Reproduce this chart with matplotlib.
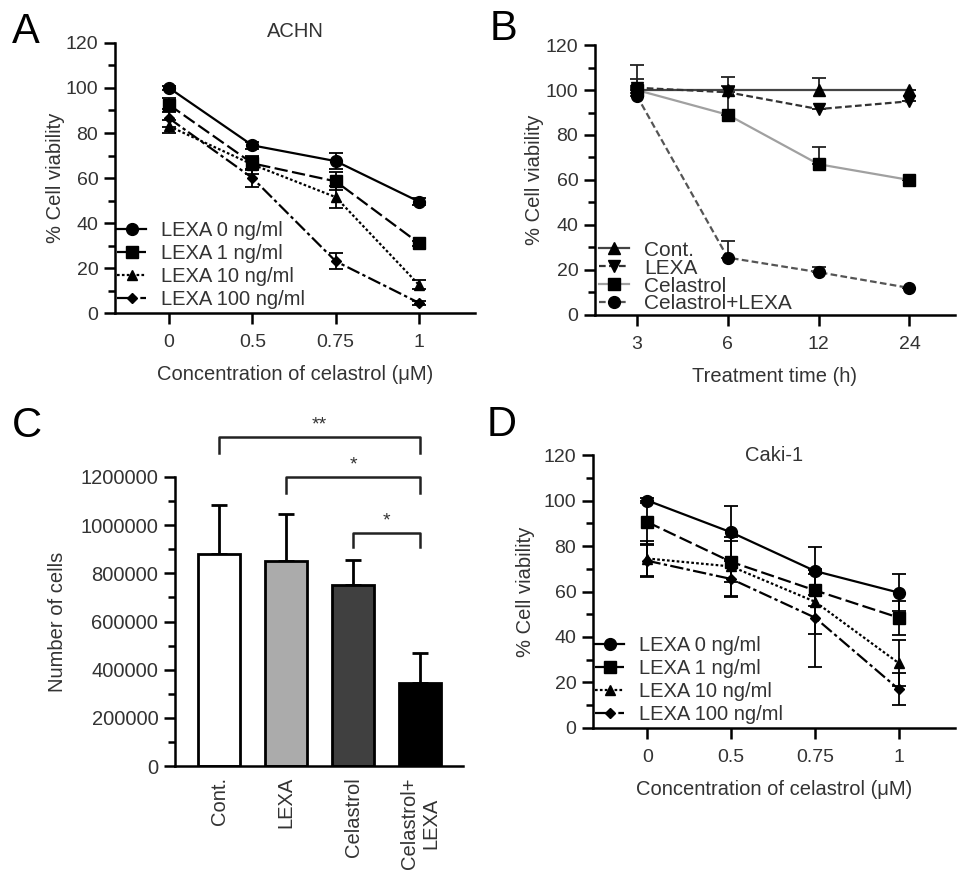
import numpy as np
import matplotlib
matplotlib.use("Agg")
import matplotlib.pyplot as plt
from matplotlib.ticker import FuncFormatter

plt.rcParams['font.family'] = ['Liberation Sans', 'DejaVu Sans']
plt.rcParams['axes.linewidth'] = 1.8

# data -------------------------------------------------------------------
conc_labels = ['0', '0.5', '0.75', '1']
lexa_labels = ['LEXA 0 ng/ml', 'LEXA 1 ng/ml', 'LEXA 10 ng/ml', 'LEXA 100 ng/ml']

achn_mean = [
    [100, 74.5, 67.5, 49.5],
    [92.5, 66.5, 58.5, 31],
    [83, 66, 51.5, 12.5],
    [86.5, 60, 23, 4.5],
]
achn_err = [
    [1, 1.5, 3.5, 1.5],
    [3, 3, 4, 1],
    [3, 4, 5, 2],
    [4, 4, 3.5, 1],
]

caki_mean = [
    [100, 86, 69, 59.5],
    [90.5, 73, 60.5, 48.5],
    [74.5, 71, 55.5, 28.5],
    [73.5, 65.5, 48.5, 17],
]
caki_err = [
    [1, 11.5, 10.5, 8],
    [9.5, 9, 7, 7.5],
    [7.5, 13, 14, 10],
    [7, 8, 21.5, 7],
]

time_labels = ['3', '6', '12', '24']
time_groups = ['Cont.', 'LEXA', 'Celastrol', 'Celastrol+LEXA']
time_mean = [
    [100, 100, 100, 100],
    [101, 99, 91.5, 95],
    [100, 89, 67, 60],
    [97.5, 25.5, 19, 12],
]
# only upper error bars are shown in this panel
time_err = [
    [11, 2, 5.5, 0],
    [4, 1, 0, 0],
    [2, 17, 7.5, 0],
    [1, 7.5, 2.5, 0],
]

bar_labels = ['Cont.', 'LEXA', 'Celastrol', 'Celastrol+\nLEXA']
bar_mean = [880000, 850000, 750000, 345000]
bar_sd = [205000, 195000, 105000, 125000]
bar_colors = ['white', '#ababab', '#404040', 'black']

# styles -----------------------------------------------------------------
conc_markers = ['o', 's', '^', 'D']
conc_msize = [8.5, 8.5, 7.5, 5.5]
conc_ls = ['-', (0, (6, 2)), (0, (1.2, 1)), (0, (6, 1.5, 1.5, 1.5))]

time_markers = ['^', 'v', 's', 'o']
time_colors = ['#444444', '#333333', '#a0a0a0', '#555555']
time_ls = ['-', (0, (3, 1.5)), '-', (0, (3, 1.5))]

TXT = '#333333'

fig = plt.figure(figsize=(9.69, 8.81), dpi=100)
axA = fig.add_axes([0.1187, 0.6447, 0.3713, 0.3065])
axB = fig.add_axes([0.614, 0.6425, 0.3715, 0.3064])
axC = fig.add_axes([0.1806, 0.1305, 0.2972, 0.3281])
axD = fig.add_axes([0.612, 0.1737, 0.3735, 0.3098])


def style_axis(ax, ymax, minor_step, xlo, xhi, labelsize=14):
    for s in ['top', 'right']:
        ax.spines[s].set_visible(False)
    ax.set_ylim(0, ymax)
    ax.set_xlim(xlo, xhi)
    ax.set_yticks(np.arange(0, ymax + 1, 2 * minor_step))
    ax.set_yticks(np.arange(minor_step, ymax, 2 * minor_step), minor=True)
    ax.tick_params(axis='both', which='major', length=8, width=1.8, pad=4,
                   labelsize=labelsize, colors='black', labelcolor=TXT)
    ax.tick_params(axis='x', which='major', pad=7)
    ax.tick_params(axis='y', which='minor', length=5, width=1.8)
    ax.tick_params(axis='x', which='minor', bottom=False)


def make_legend(ax, handles, labels, fs, spacing, anchor):
    leg = ax.legend(handles, labels, loc='lower left', bbox_to_anchor=anchor,
                    frameon=False, fontsize=fs, handlelength=1.45,
                    handletextpad=0.7, labelspacing=spacing, borderpad=0.2,
                    borderaxespad=0)
    for t in leg.get_texts():
        t.set_color(TXT)
    return leg


def conc_panel(ax, mean, err, title, title_pad, ylabel_pad):
    x = np.arange(len(conc_labels))
    handles = []
    for i in range(len(mean)):
        c = ax.errorbar(x, mean[i], yerr=err[i], color='black', lw=1.6,
                        ls=conc_ls[i], marker=conc_markers[i], ms=conc_msize[i],
                        capsize=5, elinewidth=1.3, capthick=1.3,
                        clip_on=False, zorder=3)
        handles.append(c[0])
    style_axis(ax, 120, 10, -0.65, 3.67)
    ax.set_xticks(x)
    ax.set_xticklabels(conc_labels)
    ax.set_xlabel('Concentration of celastrol (\u03bcM)', fontsize=14.5,
                  color=TXT, labelpad=10)
    ax.set_ylabel('% Cell viability', fontsize=14.5, color=TXT,
                  labelpad=ylabel_pad)
    ax.set_title(title, fontsize=14.5, color=TXT, pad=title_pad)
    make_legend(ax, handles, lexa_labels, 14.5, 0.2, (-0.005, 0.0))


conc_panel(axA, achn_mean, achn_err, 'ACHN', 4, 0.5)
conc_panel(axD, caki_mean, caki_err, 'Caki-1', -4, 6)

# B: time course
xt = np.arange(len(time_labels))
handlesB = []
for i in range(len(time_mean)):
    c = axB.errorbar(xt, time_mean[i],
                     yerr=[np.zeros(len(time_err[i])), time_err[i]],
                     color=time_colors[i], ecolor='#222222', lw=1.6,
                     ls=time_ls[i], marker=time_markers[i], ms=8.5,
                     mfc='black', mec='black', capsize=5, elinewidth=1.3,
                     capthick=1.3, clip_on=False, zorder=3)
    handlesB.append(c[0])
style_axis(axB, 120, 10, -0.46, 3.5)
axB.set_xticks(xt)
axB.set_xticklabels(time_labels)
axB.set_xlabel('Treatment time (h)', fontsize=14.5, color=TXT, labelpad=10)
axB.set_ylabel('% Cell viability', fontsize=14.5, color=TXT, labelpad=1.5)
make_legend(axB, handlesB, time_groups, 15, -0.05, (0.0, -0.01))

# C: bar chart
xb = np.arange(len(bar_labels))
axC.bar(xb, bar_mean, width=0.62, color=bar_colors, edgecolor='black',
        linewidth=2, zorder=2)
axC.errorbar(xb, bar_mean, yerr=[np.zeros(len(bar_sd)), bar_sd], fmt='none',
             ecolor='black', elinewidth=2, capsize=6, capthick=2, zorder=1)
style_axis(axC, 1200000, 100000, -0.66, 3.64, labelsize=14.5)
axC.yaxis.set_major_formatter(FuncFormatter(lambda v, p: '%d' % v))
axC.tick_params(axis='y', which='major', pad=4)
axC.set_xticks(xb)
axC.set_xticklabels(bar_labels, rotation=90, fontsize=14.5, linespacing=1.2)
axC.tick_params(axis='x', length=0, pad=8)
axC.set_ylabel('Number of cells', fontsize=14.5, color=TXT, labelpad=10)
for lbl in axC.get_xticklabels():
    lbl.set_color(TXT)

# significance brackets
brackets = [(0, 3, 1366000, 1300000, '**'),
            (1, 3, 1200000, 1135000, '*'),
            (2, 3, 968000, 910000, '*')]
for a, b, top, foot, star in brackets:
    axC.plot([xb[a], xb[a], xb[b], xb[b]], [foot, top, top, foot],
             color='#222222', lw=1.8, clip_on=False)
    axC.text((xb[a] + xb[b]) / 2, top + 15000, star, ha='center',
             va='bottom', fontsize=14, color=TXT)

# panel letters
for letter, xx, yy in [('A', 0.012, 0.951), ('B', 0.505, 0.955),
                       ('C', 0.012, 0.504), ('D', 0.502, 0.505)]:
    fig.text(xx, yy, letter, fontsize=30, color='black', va='baseline')

fig.savefig('out.png', dpi=100)
